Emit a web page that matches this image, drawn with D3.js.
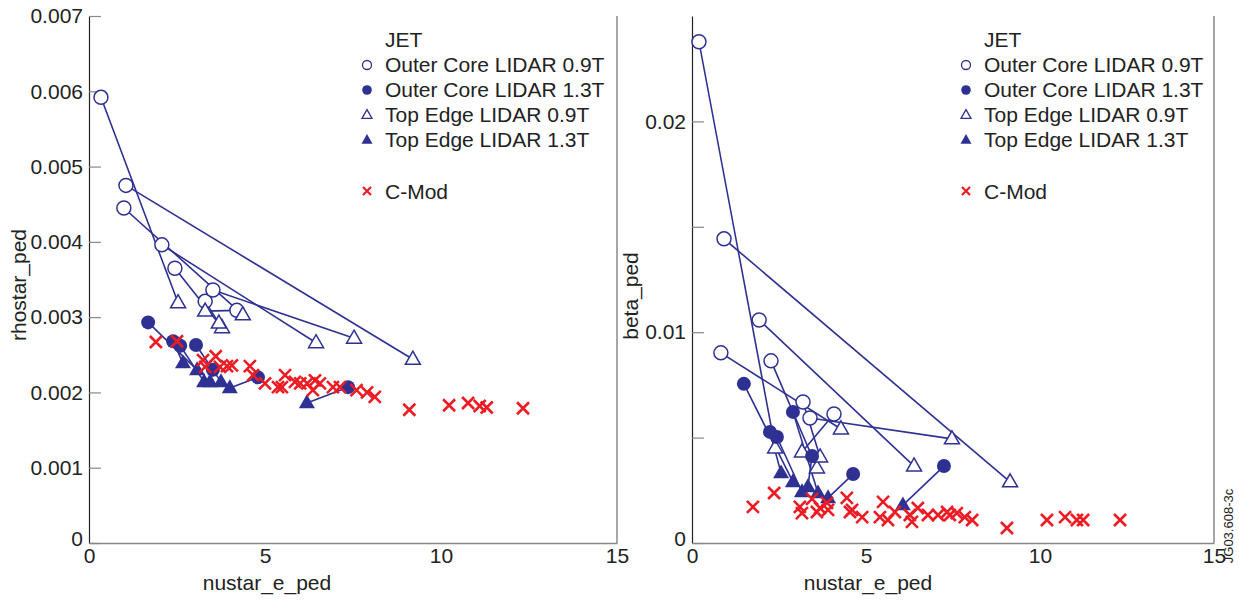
<!DOCTYPE html>
<html>
<head>
<meta charset="utf-8">
<script src="https://cdn.jsdelivr.net/npm/d3@7"></script>
<style>
  body { margin: 0; background: #fff; }
  text { font-family: "Liberation Sans", Arial, Helvetica, sans-serif; }
</style>
</head>
<body>
<div id="chart"></div>
<script>
let width = 1239
let height = 601
const navy = "#2e3192"
const red = "#ed1c24"
const fontSize = "21px"

// JET, rhostar_ped panel (each index = one shot: outer core point linked to top edge point)
const ocRhoX = [0.34, 1.05, 0.99, 2.07, 2.44, 3.3, 3.52, 4.2]
const ocRho = [0.00592, 0.00475, 0.00445, 0.00396, 0.00365, 0.00321, 0.00336, 0.00309]
const otRhoX = [2.53, 9.2, 4.37, 6.45, 3.78, 3.69, 7.53, 3.3]
const otRho = [0.00319, 0.00244, 0.00303, 0.00266, 0.00286, 0.00292, 0.00272, 0.00308]
const fcRhoX = [1.68, 2.39, 2.59, 3.04, 3.52, 4.8, 7.36]
const fcRho = [0.00293, 0.00268, 0.00262, 0.00263, 0.0023, 0.0022, 0.00207]
const ftRhoX = [3.07, 2.67, 3.27, 3.75, 3.44, 4.0, 6.19]
const ftRho = [0.0023, 0.00239, 0.00214, 0.00214, 0.00214, 0.00206, 0.00186]

// JET, beta_ped panel
const ocBetaX = [0.2, 0.92, 0.83, 1.93, 2.27, 3.19, 3.39, 4.08]
const ocBeta = [0.02378, 0.01443, 0.00902, 0.01058, 0.00864, 0.00669, 0.00593, 0.00612]
const otBetaX = [2.39, 9.14, 4.28, 6.38, 3.59, 3.68, 7.47, 3.16]
const otBeta = [0.00451, 0.0029, 0.00541, 0.00365, 0.00356, 0.00408, 0.00494, 0.00432]
const fcBetaX = [1.49, 2.24, 2.44, 2.9, 3.45, 4.63, 7.24]
const fcBeta = [0.00755, 0.00527, 0.00503, 0.00622, 0.00413, 0.00327, 0.00365]
const ftBetaX = [2.9, 2.56, 3.16, 3.62, 3.33, 3.91, 6.06]
const ftBeta = [0.0029, 0.00332, 0.00242, 0.00237, 0.00266, 0.00214, 0.0018]

// C-Mod
const cmodRhoX = [1.9, 2.5, 3.24, 3.6, 3.3, 3.72, 3.92, 4.06, 4.57, 4.66, 5.0, 5.37, 5.57, 5.48, 5.85, 6.0,
  6.2, 6.42, 6.56, 6.36, 6.93, 7.13, 7.6, 7.9, 8.12, 9.1, 10.23, 10.77, 11.1, 11.3, 12.33]
const cmodRho = [0.00267, 0.00268, 0.00243, 0.00248, 0.00234, 0.00234, 0.00235, 0.00236, 0.00235, 0.00223,
  0.00212, 0.00207, 0.00223, 0.00207, 0.00214, 0.00212, 0.00212, 0.00216, 0.00212, 0.00203, 0.00207,
  0.00207, 0.00203, 0.002, 0.00194, 0.00177, 0.00183, 0.00186, 0.00182, 0.0018, 0.00179]
const cmodBetaX = [1.75, 2.36, 3.1, 3.16, 3.45, 3.59, 3.68, 3.88, 3.91, 4.45, 4.54, 4.6, 4.89, 5.4, 5.49,
  5.63, 5.83, 6.26, 6.32, 6.49, 6.78, 7.07, 7.33, 7.41, 7.61, 7.84, 8.05, 9.05, 10.2, 10.72, 11.06, 11.24, 12.3]
const cmodBeta = [0.00171, 0.00237, 0.00171, 0.00142, 0.00209, 0.00147, 0.00166, 0.0019, 0.00157, 0.00214,
  0.00147, 0.00157, 0.00123, 0.00123, 0.00195, 0.00109, 0.00147, 0.00133, 0.001, 0.00166, 0.00133,
  0.00133, 0.00147, 0.00133, 0.00142, 0.00123, 0.00109, 0.00071, 0.00109, 0.00123, 0.00109, 0.00109, 0.00109]

const legendLabels = ["Outer Core LIDAR 0.9T", "Outer Core LIDAR 1.3T", "Top Edge LIDAR 0.9T", "Top Edge LIDAR 1.3T"]
const xTicks = [0, 5, 10, 15]

let svg = d3.select("#chart")
  .append("svg")
  .attr("width", width)
  .attr("height", height)
  .style("background", "#fff")

function triPath(s) {
  let h = s * 0.87
  return `M0,${-h * 0.62}L${s / 2},${h * 0.38}L${-s / 2},${h * 0.38}Z`
}

function crossPath(a) {
  return `M${-a},${-a}L${a},${a}M${-a},${a}L${a},${-a}`
}

function drawPanel(p) {
  let x = d3.scaleLinear().domain([0, 15]).range([p.left, p.right])
  let y = d3.scaleLinear().domain([0, p.ymax]).range([543, 16])
  let g = svg.append("g")

  // y axis
  let yAxis = g.append("g")
    .attr("transform", `translate(${p.left},0)`)
    .call(d3.axisLeft(y).tickValues(p.yTicks).tickSizeInner(-12).tickSizeOuter(0).tickPadding(6)
      .tickFormat(d => p.yLabels.includes(d) ? (d === 0 ? "0" : d3.format(p.fmt)(d)) : ""))
  yAxis.select(".domain").attr("stroke", "#222").attr("stroke-width", 1.2)
  yAxis.selectAll(".tick line").attr("stroke", "#888").attr("stroke-width", 1.2)
  yAxis.selectAll(".tick text").attr("fill", "#222").style("font-size", fontSize)
    .attr("dy", d => d === 0 ? "0.1em" : "0.32em")

  // x axis
  let xAxis = g.append("g")
    .attr("transform", "translate(0,543)")
    .call(d3.axisBottom(x).tickValues(xTicks).tickSizeInner(0).tickSizeOuter(0).tickPadding(5))
  xAxis.select(".domain").attr("stroke", "#888").attr("stroke-width", 1.5)
  xAxis.selectAll(".tick text").attr("fill", "#222").style("font-size", fontSize)

  g.append("line")
    .attr("x1", p.right).attr("x2", p.right)
    .attr("y1", 16).attr("y2", 543)
    .attr("stroke", "#888").attr("stroke-width", 1.5)

  g.append("text")
    .attr("x", x(5) + 2).attr("y", 590)
    .attr("text-anchor", "middle")
    .style("font-size", fontSize).attr("fill", "#222")
    .text("nustar_e_ped")

  g.append("text")
    .attr("transform", `translate(${p.ylabX},${p.ylabY}) rotate(-90)`)
    .attr("text-anchor", "middle")
    .style("font-size", fontSize).attr("fill", "#222")
    .text(p.ylab)

  // link lines
  let links = g.append("g").attr("stroke", navy).attr("stroke-width", 1.6)
  p.ocX.forEach((v, i) => {
    links.append("line")
      .attr("x1", x(v)).attr("y1", y(p.oc[i]))
      .attr("x2", x(p.otX[i])).attr("y2", y(p.ot[i]))
  })
  p.fcX.forEach((v, i) => {
    links.append("line")
      .attr("x1", x(v)).attr("y1", y(p.fc[i]))
      .attr("x2", x(p.ftX[i])).attr("y2", y(p.ft[i]))
  })

  g.selectAll(".oc")
    .data(p.ocX).enter().append("circle")
    .attr("cx", d => x(d)).attr("cy", (d, i) => y(p.oc[i]))
    .attr("r", 7).attr("fill", "#fff").attr("stroke", navy).attr("stroke-width", 1.5)

  g.selectAll(".ot")
    .data(p.otX).enter().append("path")
    .attr("transform", (d, i) => `translate(${x(d)},${y(p.ot[i])})`)
    .attr("d", triPath(15)).attr("fill", "#fff").attr("stroke", navy).attr("stroke-width", 1.5)

  g.selectAll(".fc")
    .data(p.fcX).enter().append("circle")
    .attr("cx", d => x(d)).attr("cy", (d, i) => y(p.fc[i]))
    .attr("r", 7).attr("fill", navy)

  g.selectAll(".ft")
    .data(p.ftX).enter().append("path")
    .attr("transform", (d, i) => `translate(${x(d)},${y(p.ft[i])})`)
    .attr("d", triPath(16)).attr("fill", navy)

  g.selectAll(".cm")
    .data(p.cmX).enter().append("path")
    .attr("transform", (d, i) => `translate(${x(d)},${y(p.cm[i])})`)
    .attr("d", crossPath(6)).attr("stroke", red).attr("stroke-width", 2.6).attr("fill", "none")

  // legend
  let lg = g.append("g").attr("transform", `translate(${p.legX},0)`)
  lg.append("text").attr("x", 18).attr("y", 47)
    .style("font-size", fontSize).attr("fill", "#222").text("JET")
  legendLabels.forEach((t, i) => {
    let yy = 72 + i * 25
    lg.append("text").attr("x", 18).attr("y", yy)
      .style("font-size", fontSize).attr("fill", "#222").text(t)
    let sy = yy - 7
    if (i === 0) lg.append("circle").attr("cx", 0).attr("cy", sy).attr("r", 4.5)
      .attr("fill", "none").attr("stroke", navy).attr("stroke-width", 1.3)
    if (i === 1) lg.append("circle").attr("cx", 0).attr("cy", sy).attr("r", 4.8).attr("fill", navy)
    if (i === 2) lg.append("path").attr("transform", `translate(0,${sy})`).attr("d", triPath(10))
      .attr("fill", "none").attr("stroke", navy).attr("stroke-width", 1.3)
    if (i === 3) lg.append("path").attr("transform", `translate(0,${sy})`).attr("d", triPath(11))
      .attr("fill", navy)
  })
  lg.append("text").attr("x", 18).attr("y", 199)
    .style("font-size", fontSize).attr("fill", "#222").text("C-Mod")
  lg.append("path").attr("transform", "translate(0,191)").attr("d", crossPath(4))
    .attr("stroke", red).attr("stroke-width", 2.2)
}

drawPanel({
  left: 89, right: 617, ymax: 0.007,
  yTicks: [0, 0.001, 0.002, 0.003, 0.004, 0.005, 0.006, 0.007],
  yLabels: [0, 0.001, 0.002, 0.003, 0.004, 0.005, 0.006, 0.007], fmt: ".3f",
  ylab: "rhostar_ped", ylabX: 26, ylabY: 285, legX: 367,
  ocX: ocRhoX, oc: ocRho, otX: otRhoX, ot: otRho,
  fcX: fcRhoX, fc: fcRho, ftX: ftRhoX, ft: ftRho,
  cmX: cmodRhoX, cm: cmodRho
})

drawPanel({
  left: 692, right: 1214, ymax: 0.025,
  yTicks: [0, 0.005, 0.01, 0.015, 0.02],
  yLabels: [0, 0.01, 0.02], fmt: ".2f",
  ylab: "beta_ped", ylabX: 638, ylabY: 296, legX: 966,
  ocX: ocBetaX, oc: ocBeta, otX: otBetaX, ot: otBeta,
  fcX: fcBetaX, fc: fcBeta, ftX: ftBetaX, ft: ftBeta,
  cmX: cmodBetaX, cm: cmodBeta
})

svg.append("text")
  .attr("transform", "translate(1233,526) rotate(-90)")
  .attr("text-anchor", "middle")
  .style("font-size", "13px").attr("fill", "#222")
  .text("JG03.608-3c")
</script>
</body>
</html>
